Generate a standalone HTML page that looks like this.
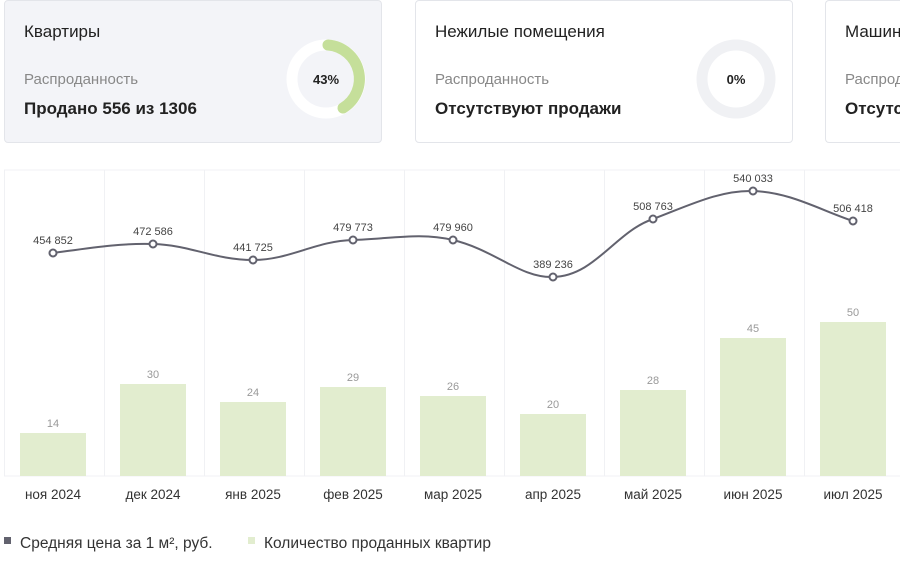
<!DOCTYPE html>
<html><head><meta charset="utf-8"><style>
html,body{margin:0;padding:0}
body{width:900px;height:561px;overflow:hidden;background:#fff;font-family:"Liberation Sans",sans-serif}
#w{position:relative;width:900px;height:561px;overflow:hidden}
.card{position:absolute;top:0;height:143px;width:378px;border:1px solid #e3e5ea;border-radius:4px;box-sizing:border-box;background:#fff;overflow:hidden}
.t{position:absolute;left:19px;top:21px;font-size:17px;color:#222;white-space:nowrap}
.s{position:absolute;left:19px;top:70px;font-size:15px;color:#888;white-space:nowrap}
.b{position:absolute;left:19px;top:98px;font-size:17px;font-weight:bold;color:#222;white-space:nowrap}
</style></head><body><div id="w">
<div class="card" style="left:4px;background:#f3f4f8"><div class="t">Квартиры</div><div class="s">Распроданность</div><div class="b">Продано 556 из 1306</div></div>
<div class="card" style="left:415px"><div class="t">Нежилые помещения</div><div class="s">Распроданность</div><div class="b">Отсутствуют продажи</div></div>
<div class="card" style="left:825px;width:75px;border-right:none;border-radius:4px 0 0 4px"><div class="t">Машиноместа</div><div class="s">Распроданность</div><div class="b">Отсутствуют продажи</div></div>
<svg width="900" height="561" style="position:absolute;left:0;top:0" font-family="Liberation Sans, sans-serif">
<circle cx="326" cy="79" r="34" fill="none" stroke="#fff" stroke-width="11"/>
<path d="M328 45 A34 34 0 0 1 343 108" fill="none" stroke="#c5df9a" stroke-width="11" stroke-linecap="round"/>
<text x="326" y="84" font-size="13" text-anchor="middle" fill="#222" font-weight="bold">43%</text>
<circle cx="736" cy="79" r="34" fill="none" stroke="#f0f1f4" stroke-width="11"/>
<text x="736" y="84" font-size="13" text-anchor="middle" fill="#222" font-weight="bold">0%</text>
<g stroke="#f0f1f4" stroke-width="1">
<line x1="4" y1="170" x2="900" y2="170"/><line x1="4" y1="476" x2="900" y2="476"/>
<line x1="4.5" y1="170" x2="4.5" y2="476"/><line x1="104.5" y1="170" x2="104.5" y2="476"/><line x1="204.5" y1="170" x2="204.5" y2="476"/><line x1="304.5" y1="170" x2="304.5" y2="476"/><line x1="404.5" y1="170" x2="404.5" y2="476"/><line x1="504.5" y1="170" x2="504.5" y2="476"/><line x1="604.5" y1="170" x2="604.5" y2="476"/><line x1="704.5" y1="170" x2="704.5" y2="476"/><line x1="804.5" y1="170" x2="804.5" y2="476"/>
</g>
<g fill="#e2edcf">
<rect x="20" y="433" width="66" height="43"/><rect x="120" y="384" width="66" height="92"/><rect x="220" y="402" width="66" height="74"/><rect x="320" y="387" width="66" height="89"/><rect x="420" y="396" width="66" height="80"/><rect x="520" y="414" width="66" height="62"/><rect x="620" y="390" width="66" height="86"/><rect x="720" y="338" width="66" height="138"/><rect x="820" y="322" width="66" height="154"/>
</g>
<g font-size="11" fill="#999" text-anchor="middle">
<text x="53" y="427">14</text><text x="153" y="378">30</text><text x="253" y="396">24</text><text x="353" y="381">29</text><text x="453" y="390">26</text><text x="553" y="408">20</text><text x="653" y="384">28</text><text x="753" y="332">45</text><text x="853" y="316">50</text>
</g>
<path d="M53 253 C90 248,120 243,153 244 C190 245,215 260,253 260 C290 260,315 241,353 240 C390 239,420 232,453 240 C495 250,520 278,553 277 C595 276,615 232,653 219 C690 205,720 190,753 191 C790 192,820 210,853 221" fill="none" stroke="#62626e" stroke-width="2"/>
<g fill="#fff" stroke="#62626e" stroke-width="2">
<circle cx="53" cy="253" r="3.5"/><circle cx="153" cy="244" r="3.5"/><circle cx="253" cy="260" r="3.5"/><circle cx="353" cy="240" r="3.5"/><circle cx="453" cy="240" r="3.5"/><circle cx="553" cy="277" r="3.5"/><circle cx="653" cy="219" r="3.5"/><circle cx="753" cy="191" r="3.5"/><circle cx="853" cy="221" r="3.5"/>
</g>
<g font-size="11" fill="#444" text-anchor="middle">
<text x="53" y="244">454 852</text><text x="153" y="235">472 586</text><text x="253" y="251">441 725</text><text x="353" y="231">479 773</text><text x="453" y="231">479 960</text><text x="553" y="268">389 236</text><text x="653" y="210">508 763</text><text x="753" y="182">540 033</text><text x="853" y="212">506 418</text>
</g>
<g font-size="13.5" fill="#333" text-anchor="middle">
<text x="53" y="499">ноя 2024</text><text x="153" y="499">дек 2024</text><text x="253" y="499">янв 2025</text><text x="353" y="499">фев 2025</text><text x="453" y="499">мар 2025</text><text x="553" y="499">апр 2025</text><text x="653" y="499">май 2025</text><text x="753" y="499">июн 2025</text><text x="853" y="499">июл 2025</text>
</g>
<rect x="4" y="537" width="7" height="7" fill="#62626e"/>
<text x="20" y="548" font-size="15.5" fill="#333">Средняя цена за 1 м², руб.</text>
<rect x="248" y="537" width="7" height="7" fill="#e2edcf"/>
<text x="264" y="548" font-size="15.5" fill="#333">Количество проданных квартир</text>
</svg>
</div></body></html>
